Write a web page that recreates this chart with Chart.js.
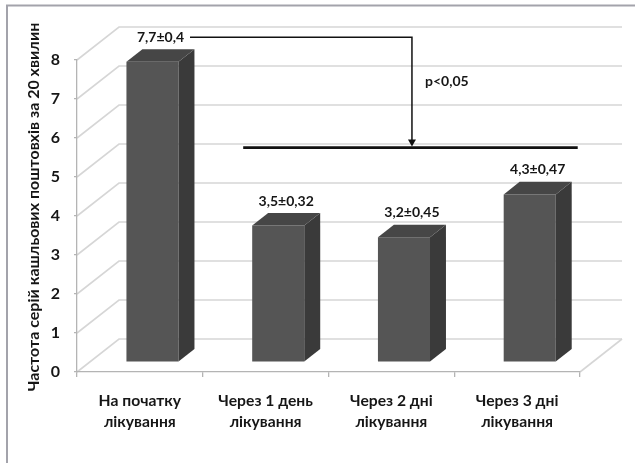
<!DOCTYPE html>
<html>
<head>
<meta charset="utf-8">
<script src="https://cdn.jsdelivr.net/npm/chart.js@4/dist/chart.umd.min.js"></script>
<style>
  html, body { margin: 0; padding: 0; background: #fff; }
  #wrap { width: 635px; height: 463px; position: relative; }
</style>
</head>
<body>
<div id="wrap"><canvas id="c" width="635" height="463"></canvas></div>
<script>
// Categories (two-line labels), means and their errors
const categories = [
  ['На початку', 'лікування'],
  ['Через 1 день', 'лікування'],
  ['Через 2 дні', 'лікування'],
  ['Через 3 дні', 'лікування']
];
const means = [7.7, 3.5, 3.2, 4.3];
const errors = [0.4, 0.32, 0.45, 0.47];
const yTicks = [0, 1, 2, 3, 4, 5, 6, 7, 8];
const axisTitle = 'Частота серій кашльових поштовхів за 20 хвилин';
const significance = 'p<0,05';
const significanceLevel = 5.5;   // height of the comparison bar, in axis units

const FONT = 'Lato, "Open Sans", sans-serif';
const TEXT = '#161616';

// Oblique 3D look: wall depth, where bars sit in depth and how deep they are
const WALL = { dx: 42, dy: -33 };
const BAR_FRONT = 0.30;
const BAR_DEPTH = 0.38;
const COLORS = { front: '#555555', side: '#3a3a3a', top: '#464646', grid: '#d6d6d6', axis: '#b4b4b4' };

const fmt = v => String(v).replace('.', ',');
const valueLabels = means.map((m, i) => fmt(m) + '±' + fmt(errors[i]));

function barGeom(chart, el) {
  const p = el.getProps(['x', 'y', 'base', 'width'], true);
  const fx = WALL.dx * BAR_FRONT, fy = WALL.dy * BAR_FRONT;
  const bdx = WALL.dx * BAR_DEPTH, bdy = WALL.dy * BAR_DEPTH;
  const left = p.x - p.width / 2 + fx, right = p.x + p.width / 2 + fx;
  return { left, right, top: p.y + fy, base: p.base + fy, bdx, bdy, cx: p.x + fx + bdx / 2 };
}

const threeD = {
  id: 'threeD',
  beforeDraw(chart) {
    const { ctx, chartArea: a, scales: { y } } = chart;
    ctx.save();
    // outer frame
    ctx.strokeStyle = '#a3a3ab';
    ctx.lineWidth = 2;
    ctx.beginPath();
    ctx.moveTo(7, 470); ctx.lineTo(7, 5.5); ctx.lineTo(640, 5.5);
    ctx.stroke();
    // back wall grid lines and side wall diagonals
    ctx.strokeStyle = COLORS.grid;
    ctx.lineWidth = 1.6;
    yTicks.forEach(v => {
      const py = y.getPixelForValue(v);
      ctx.beginPath();
      ctx.moveTo(a.left, py);
      ctx.lineTo(a.left + WALL.dx, py + WALL.dy);
      ctx.lineTo(a.right + WALL.dx, py + WALL.dy);
      ctx.stroke();
    });
    // floor right edge
    ctx.beginPath();
    ctx.moveTo(a.right, a.bottom);
    ctx.lineTo(a.right + WALL.dx, a.bottom + WALL.dy);
    ctx.stroke();
    ctx.restore();
  },
  beforeDatasetsDraw(chart) {
    chart.ctx.save();
    chart.ctx.translate(WALL.dx * BAR_FRONT, WALL.dy * BAR_FRONT);
  },
  afterDatasetsDraw(chart) {
    const ctx = chart.ctx;
    ctx.restore();
    const meta = chart.getDatasetMeta(0);
    ctx.save();
    meta.data.forEach(el => {
      const g = barGeom(chart, el);
      // side face
      ctx.fillStyle = COLORS.side;
      ctx.beginPath();
      ctx.moveTo(g.right, g.top);
      ctx.lineTo(g.right + g.bdx, g.top + g.bdy);
      ctx.lineTo(g.right + g.bdx, g.base + g.bdy);
      ctx.lineTo(g.right, g.base);
      ctx.closePath();
      ctx.fill();
      // top face
      ctx.fillStyle = COLORS.top;
      ctx.beginPath();
      ctx.moveTo(g.left, g.top);
      ctx.lineTo(g.left + g.bdx, g.top + g.bdy);
      ctx.lineTo(g.right + g.bdx, g.top + g.bdy);
      ctx.lineTo(g.right, g.top);
      ctx.closePath();
      ctx.fill();
    });
    ctx.restore();
  },
  afterDraw(chart) {
    const { ctx, scales: { y } } = chart;
    const meta = chart.getDatasetMeta(0);
    const geoms = meta.data.map(el => barGeom(chart, el));
    ctx.save();
    // value labels
    ctx.font = 'bold 14px ' + FONT;
    ctx.fillStyle = TEXT;
    ctx.textAlign = 'center';
    ctx.textBaseline = 'middle';
    const labelPos = geoms.map((g, i) => {
      const p = { x: g.cx, y: g.top + g.bdy - 12 };
      ctx.fillText(valueLabels[i], p.x, p.y);
      return p;
    });

    // comparison bracket: from the first label to the level line above bars 2-4
    const fy = WALL.dy * BAR_FRONT;
    const lineY = y.getPixelForValue(significanceLevel) + fy;
    const startX = labelPos[0].x + ctx.measureText(valueLabels[0]).width / 2 + 6;
    const cornerX = geoms[2].cx;
    const bY = labelPos[0].y;
    ctx.strokeStyle = '#111';
    ctx.lineWidth = 1.5;
    ctx.beginPath();
    ctx.moveTo(startX, bY);
    ctx.lineTo(cornerX, bY);
    ctx.lineTo(cornerX, lineY - 6);
    ctx.stroke();
    ctx.fillStyle = '#111';
    ctx.beginPath();
    ctx.moveTo(cornerX - 4, lineY - 8);
    ctx.lineTo(cornerX + 4, lineY - 8);
    ctx.lineTo(cornerX, lineY - 1);
    ctx.closePath();
    ctx.fill();
    ctx.lineWidth = 2.6;
    ctx.beginPath();
    ctx.moveTo(geoms[1].left - 9, lineY);
    ctx.lineTo(geoms[3].right + geoms[3].bdx + 6, lineY);
    ctx.stroke();

    ctx.fillStyle = TEXT;
    ctx.textAlign = 'left';
    ctx.font = 'bold 14px ' + FONT;
    ctx.fillText(significance, cornerX + 13, bY + 44);

    // y axis title
    ctx.font = 'bold 16px ' + FONT;
    ctx.textAlign = 'center';
    ctx.textBaseline = 'middle';
    ctx.translate(34, 207);
    ctx.rotate(-Math.PI / 2);
    ctx.fillText(axisTitle, 0, 0);
    ctx.restore();
  }
};

new Chart(document.getElementById('c'), {
  type: 'bar',
  data: {
    labels: categories,
    datasets: [{
      data: means,
      backgroundColor: COLORS.front,
      borderWidth: 0,
      categoryPercentage: 1,
      barPercentage: 0.414,
      clip: false
    }]
  },
  options: {
    responsive: false,
    animation: false,
    devicePixelRatio: 1,
    layout: { padding: { left: 0, top: 60, right: 55, bottom: 0 } },
    plugins: { legend: { display: false }, tooltip: { enabled: false } },
    scales: {
      x: {
        grid: { offset: true, drawOnChartArea: false, tickLength: 5, color: COLORS.axis, lineWidth: 1.3 },
        border: { color: COLORS.axis, width: 1.3 },
        ticks: { color: TEXT, padding: 13, font: { family: FONT, size: 15.7, weight: 'bold', lineHeight: 1.34 } },
        afterFit: s => { s.height = 91; }
      },
      y: {
        min: 0, max: 8,
        afterBuildTicks: s => { s.ticks = yTicks.map(v => ({ value: v })); },
        grid: { drawOnChartArea: false, tickLength: 3, color: COLORS.axis, lineWidth: 1.3 },
        border: { color: COLORS.axis, width: 1.3 },
        ticks: { color: TEXT, padding: 14, font: { family: FONT, size: 16, weight: 'bold' } },
        afterFit: s => { s.width = 77; }
      }
    }
  },
  plugins: [threeD]
});
</script>
</body>
</html>
